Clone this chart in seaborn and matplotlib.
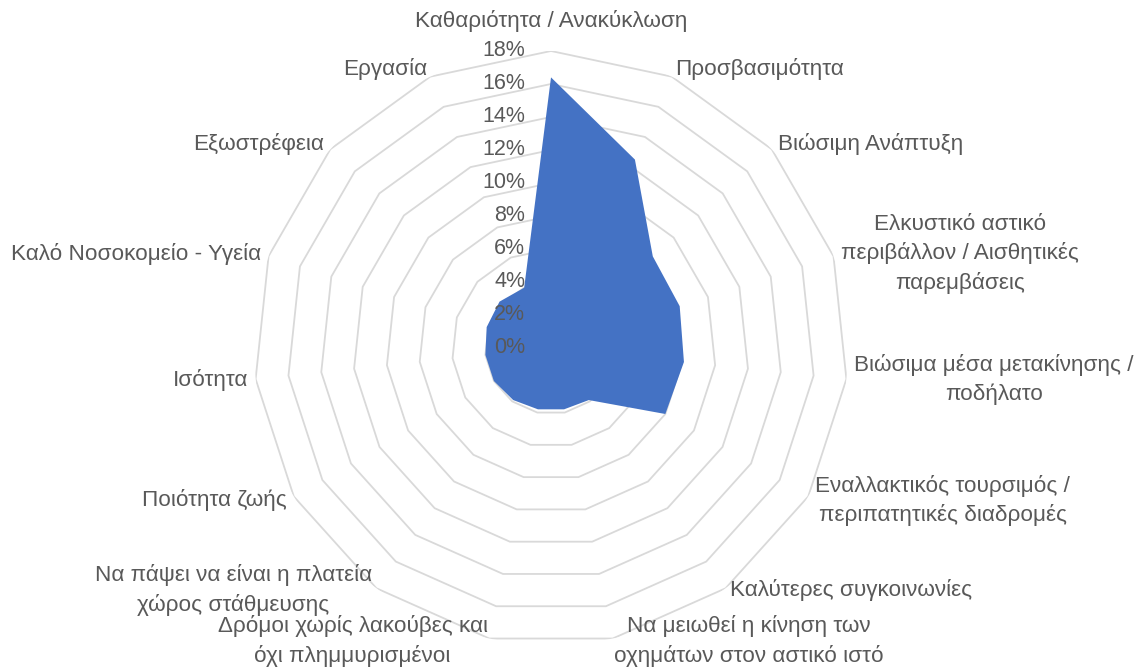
import numpy as np
import matplotlib
matplotlib.use("Agg")
import matplotlib.pyplot as plt
import matplotlib.transforms as mtransforms
import seaborn as sns

# share of answers per theme (%)
categories = [
    "Καθαριότητα / Ανακύκλωση",
    "Προσβασιμότητα",
    "Βιώσιμη Ανάπτυξη",
    "Ελκυστικό αστικό\nπεριβάλλον / Αισθητικές\nπαρεμβάσεις",
    "Βιώσιμα μέσα μετακίνησης /\nποδήλατο",
    "Εναλλακτικός τουρσιμός /\nπεριπατητικές διαδρομές",
    "Καλύτερες συγκοινωνίες",
    "Να μειωθεί η κίνηση των\nοχημάτων στον αστικό ιστό",
    "Δρόμοι χωρίς λακούβες και\nόχι πλημμυρισμένοι",
    "Να πάψει να είναι η πλατεία\nχώρος στάθμευσης",
    "Ποιότητα ζωής",
    "Ισότητα",
    "Καλό Νοσοκομείο - Υγεία",
    "Εξωστρέφεια",
    "Εργασία",
]
values = [16.4, 12.5, 8.3, 8.2, 8.1, 8.0, 3.9, 3.8, 3.8, 3.9, 4.0, 4.0, 4.1, 4.2, 4.0]
tick_values = [0, 2, 4, 6, 8, 10, 12, 14, 16, 18]
tick_labels = [f"{t}%" for t in tick_values]

sns.set_theme(style="white")
plt.rcParams["font.family"] = ["Liberation Sans", "DejaVu Sans"]

fill_color = "#4472C4"
ring_color = "#D9D9D9"
text_color = "#595959"

fig = plt.figure(figsize=(11.38, 6.7), dpi=100)
ax = fig.add_axes([0.2232, 0.0373, 0.522, 0.8866], projection="polar")
ax.set_theta_zero_location("N")
ax.set_theta_direction(-1)

n = len(categories)
angles = np.linspace(0, 2 * np.pi, n, endpoint=False)
closed_angles = np.append(angles, 2 * np.pi)
closed_values = np.append(values, values[0])

# polygon rings instead of circles (excel style)
for t in tick_values[1:]:
    sns.lineplot(x=closed_angles, y=[t] * (n + 1), ax=ax, sort=False,
                 estimator=None, color=ring_color, linewidth=1.3, zorder=1)

ax.fill(closed_angles, closed_values, color=fill_color, linewidth=0, zorder=3)

ax.set_ylim(0, 18)
ax.set_xticks([])
ax.set_yticks([])
ax.grid(False)
ax.spines["polar"].set_visible(False)

# radial labels left of the vertical axis
offset = mtransforms.offset_copy(ax.transData, fig=fig, x=-26, y=0, units="dots")
for t, lab in zip(tick_values, tick_labels):
    ax.text(0, t, lab, transform=offset, ha="right", va="center",
            color=text_color, fontsize=15.5, zorder=5)

# category labels round the outer ring
lift = mtransforms.offset_copy(ax.transData, fig=fig, x=0, y=5, units="dots")
for i, (a, lab) in enumerate(zip(angles, categories)):
    s = np.sin(a)
    if abs(s) < 0.05:
        ha = "center"
    elif s > 0:
        ha = "left"
    else:
        ha = "right"
    r = 19.8 if i == 0 else 18.48
    # lower labels nudged up so they stay inside the figure and apart
    tr = lift if np.cos(a) < -0.7 else ax.transData
    ax.text(a, r, lab, transform=tr, ha=ha, va="center", multialignment="center",
            linespacing=1.45, fontsize=16.2, color=text_color)

fig.savefig("out.png", dpi=100)
